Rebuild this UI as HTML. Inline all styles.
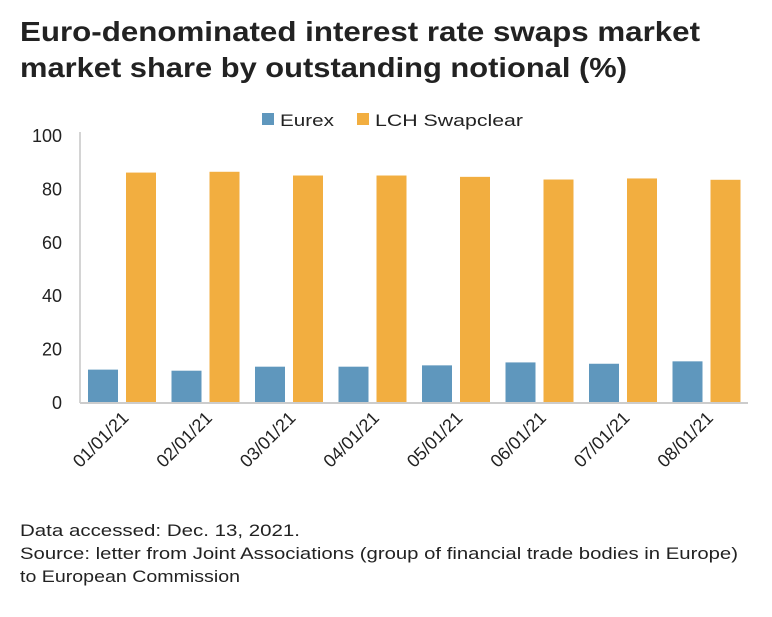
<!DOCTYPE html>
<html><head><meta charset="utf-8"><style>
body{margin:0;background:#fff;font-family:"Liberation Sans",sans-serif;}
svg text{font-family:"Liberation Sans",sans-serif;fill:#222}
</style></head><body>
<svg width="772" height="612">
<text x="20" y="41" font-size="28" font-weight="bold" textLength="680" lengthAdjust="spacingAndGlyphs">Euro-denominated interest rate swaps market</text>
<text x="20" y="77" font-size="28" font-weight="bold" textLength="607" lengthAdjust="spacingAndGlyphs">market share by outstanding notional (%)</text>
<g>
<rect x="262" y="113" width="12" height="12" fill="#5f97bd"/>
<text x="280" y="126" font-size="17" textLength="54" lengthAdjust="spacingAndGlyphs">Eurex</text>
<rect x="357" y="113" width="12" height="12" fill="#f2ae40"/>
<text x="375" y="126" font-size="17" textLength="148" lengthAdjust="spacingAndGlyphs">LCH Swapclear</text>
</g>
<g id="plot"></g>
<text x="20" y="536" font-size="16.5" textLength="280" lengthAdjust="spacingAndGlyphs">Data accessed: Dec. 13, 2021.</text>
<text x="20" y="559" font-size="16.5" textLength="718" lengthAdjust="spacingAndGlyphs">Source: letter from Joint Associations (group of financial trade bodies in Europe)</text>
<text x="20" y="582" font-size="16.5" textLength="220" lengthAdjust="spacingAndGlyphs">to European Commission</text>
</svg>
<script>
const categories=["01/01/21","02/01/21","03/01/21","04/01/21","05/01/21","06/01/21","07/01/21","08/01/21"];
const eurex=[12.5,12.1,13.6,13.6,14.1,15.2,14.7,15.6];
const lch=[86.3,86.6,85.2,85.2,84.7,83.7,84.1,83.6];
const yTicks=[0,20,40,60,80,100];
const NS="http://www.w3.org/2000/svg";
const g=document.getElementById('plot');
const x0=80,x1=748,y0=403,yTop=136;
const y=v=>y0-(v/100)*(y0-yTop);
const gw=(x1-x0)/categories.length;
function mk(t,a){const e=document.createElementNS(NS,t);for(const k in a)e.setAttribute(k,a[k]);g.appendChild(e);return e;}
yTicks.forEach(v=>{const t=mk('text',{x:62,y:y(v)+6,'font-size':18,'text-anchor':'end'});t.textContent=v;

});
categories.forEach((c,i)=>{const gx=x0+i*gw;
const b1=mk('rect',{x:gx+8,y:y(eurex[i]),width:30,height:y0-y(eurex[i]),fill:'#5f97bd'});


const b2=mk('rect',{x:gx+46,y:y(lch[i]),width:30,height:y0-y(lch[i]),fill:'#f2ae40'});


const cx=gx+gw/2+8;
const t=mk('text',{x:cx,y:y0+16,'font-size':18,'text-anchor':'end',transform:`rotate(-45 ${cx} ${y0+16})`});t.textContent=c;

});
const ax=mk('line',{x1:x0,y1:yTop-4,x2:x0,y2:y0,stroke:'#aaa','stroke-width':1});


const bx=mk('line',{x1:x0,y1:y0,x2:x1,y2:y0,stroke:'#ccc','stroke-width':2});


</script>
</body></html>
